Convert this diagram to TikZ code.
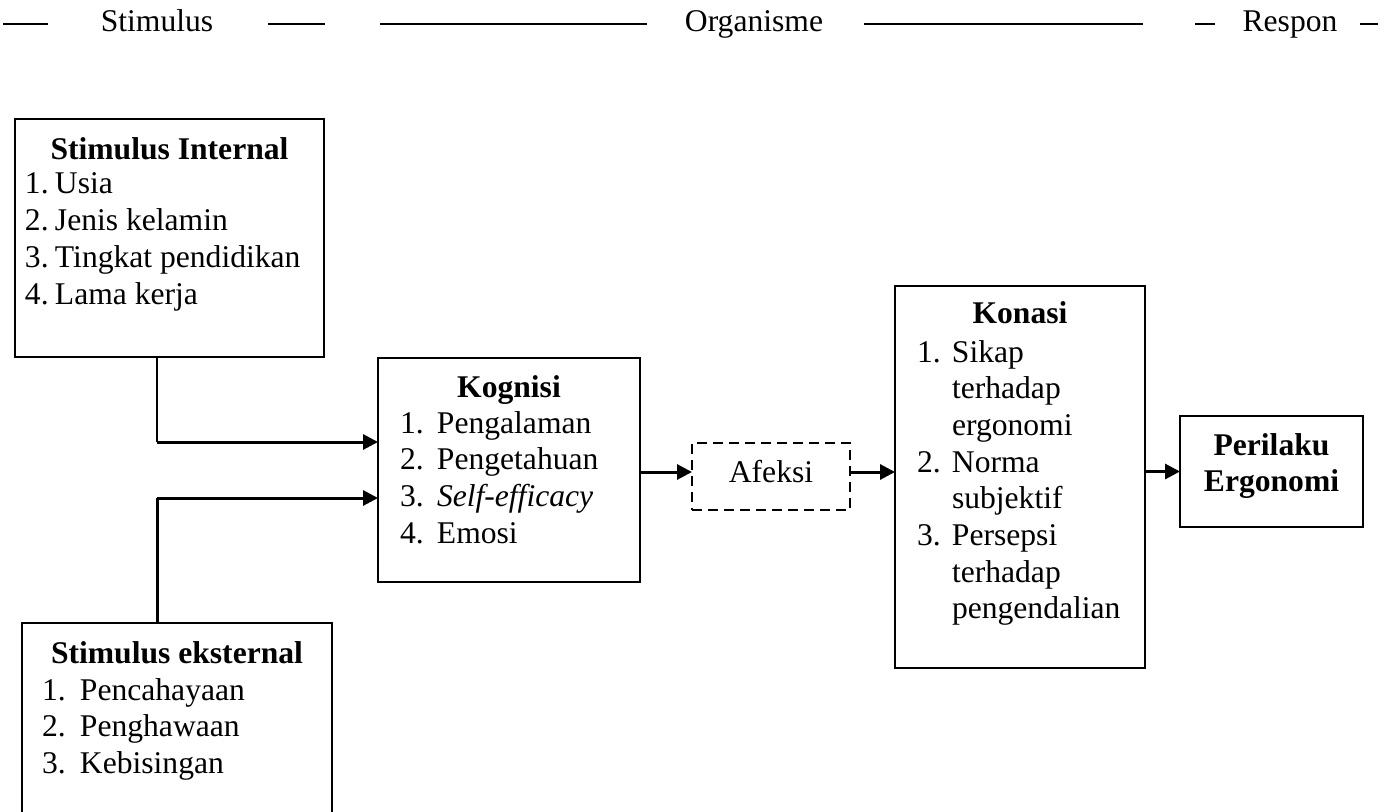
\documentclass[tikz,border=0pt]{standalone}
\usepackage{fontspec}
\setmainfont{Liberation Serif}
\usetikzlibrary{arrows.meta}
\begin{document}
\begin{tikzpicture}[x=0.5pt,y=-0.5pt,
  every node/.style={font=\fontsize{15.8}{18.35}\selectfont, inner sep=0pt, outer sep=0pt},
  box/.style={draw, line width=1pt, rectangle},
  dbox/.style={draw, line width=1.1pt, rectangle, dash pattern=on 5pt off 3pt},
  ttl/.style={anchor=base, font=\fontsize{15.8}{18.35}\selectfont\bfseries},
  lst/.style={anchor=base west},
  hdr/.style={line width=0.7pt},
  thinln/.style={line width=0.6pt},
  arr/.style={line width=1.5pt, -{Triangle[length=7.5pt,width=7.5pt]}},
  thk/.style={line width=1.5pt},
]
\useasboundingbox (0,0) rectangle (1395,812);

% header
\draw[hdr] (3,24) -- (48,24);
\draw[hdr] (268,24) -- (325,24);
\draw[hdr] (380,24) -- (647,24);
\draw[hdr] (864,24) -- (1143,24);
\draw[hdr] (1195,24) -- (1215,24);
\draw[hdr] (1360,24) -- (1378,24);
\node[anchor=base] (hS) at (157,32) {Stimulus};
\node[anchor=base] (hO) at (754,32) {Organisme};
\node[anchor=base] (hR) at (1290,32) {Respon};

% boxes
\node[box, minimum width=154.5pt, minimum height=119pt] (si) at (169.5,238) {};
\node[box, minimum width=155pt, minimum height=103.5pt] (se) at (177,726.5) {};
\node[box, minimum width=131pt, minimum height=112pt] (kog) at (509,470) {};
\node[dbox, minimum width=79pt, minimum height=33.5pt] (af) at (771,476.5) {};
\node[box, minimum width=125pt, minimum height=191pt] (kon) at (1020,477) {};
\node[box, minimum width=91.5pt, minimum height=55.5pt] (per) at (1271.5,471.5) {};

% texts
\node[ttl] (siT) at (169.5,160) {Stimulus Internal};
\node[lst] (siL) at (25,194) {\begin{tabular}[t]{@{}p{15pt}@{}l@{}}
1. & Usia\\ 2. & Jenis kelamin\\ 3. & Tingkat pendidikan\\ 4. & Lama kerja
\end{tabular}};

\node[ttl] (seT) at (177,663) {Stimulus eksternal};
\node[lst] (seL) at (42,700) {\begin{tabular}[t]{@{}p{19pt}@{}l@{}}
1. & Pencahayaan\\ 2. & Penghawaan\\ 3. & Kebisingan
\end{tabular}};

\node[ttl] (kogT) at (509,397) {Kognisi};
\node[lst] (kogL) at (400,433) {\begin{tabular}[t]{@{}p{18.5pt}@{}l@{}}
1. & Pengalaman\\ 2. & Pengetahuan\\ 3. & \textit{Self-efficacy}\\ 4. & Emosi
\end{tabular}};

\node[anchor=base] (afT) at (771,482) {Afeksi};

\node[ttl] (konT) at (1020,323) {Konasi};
\node[lst] (konL) at (917,362) {\begin{tabular}[t]{@{}p{17.5pt}@{}l@{}}
1. & Sikap\\ & terhadap\\ & ergonomi\\ 2. & Norma\\ & subjektif\\ 3. & Persepsi\\ & terhadap\\ & pengendalian
\end{tabular}};

\node[anchor=base] (perT) at (1271.5,455) {\begin{tabular}[t]{@{}c@{}}\bfseries Perilaku\\ \bfseries Ergonomi\end{tabular}};

% connectors
\coordinate (j1) at (157,442);
\coordinate (j2) at (157,498);
\coordinate (k1) at (0,472);
\draw[thinln] (si.south -| j1) -- (j1);
\draw[arr] (j1) -- (kog.west |- j1);
\draw[thk] (se.north -| j2) -- (j2);
\draw[arr] (j2) -- (kog.west |- j2);
\draw[arr] (kog.east |- k1) -- (af.west |- k1);
\draw[arr] (af.east |- k1) -- (kon.west |- k1);
\draw[arr] (kon.east |- per.west) -- (per.west);
\end{tikzpicture}
\end{document}
